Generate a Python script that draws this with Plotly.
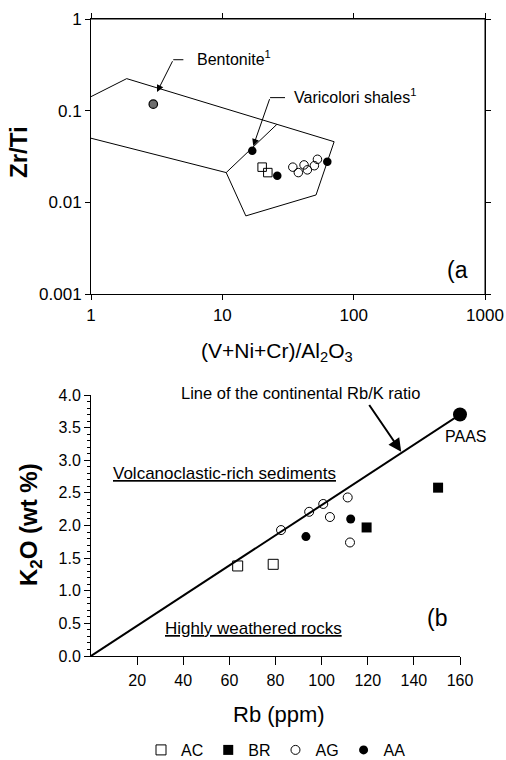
import numpy as np
import plotly.graph_objects as go

# ---------------- Panel (a) data ----------------
a_ac_x = [20.1, 22.2]
a_ac_y = [0.0243, 0.0212]
a_ag_x = [34.4, 37.9, 41.9, 44.4, 50.2, 53.0]
a_ag_y = [0.0243, 0.0212, 0.0257, 0.0227, 0.0252, 0.0296]
a_aa_x = [26.2, 63.0]
a_aa_y = [0.0196, 0.0279]
bentonite_x = [2.98]
bentonite_y = [0.118]
varicolori_x = [16.9]
varicolori_y = [0.0367]
field_x = [1, 1.87, 71, 51.7, 15.1, 10.7, 1]
field_y = [0.1425, 0.224, 0.046, 0.0121, 0.00715, 0.0212, 0.0502]
divider_x = [10.7, 26.0]
divider_y = [0.0212, 0.071]
a_xticks = [1, 10, 100, 1000]
a_xticktext = ["1", "10", "100", "1000"]
a_yticks = [0.001, 0.01, 0.1, 1]
a_yticktext = ["0.001", "0.01", "0.1", "1"]
a_xrange = [0, 3]     # log10 range
a_yrange = [-3, 0]    # log10 range

# ---------------- Panel (b) data ----------------
b_ac_rb = [63.6, 79.0]
b_ac_k = [1.38, 1.405]
b_br_rb = [119.5, 150.5]
b_br_k = [1.97, 2.58]
b_ag_rb = [82.4, 94.6, 100.7, 103.6, 111.3, 112.3]
b_ag_k = [1.93, 2.21, 2.33, 2.13, 2.43, 1.74]
b_aa_rb = [93.2, 112.6]
b_aa_k = [1.83, 2.10]
paas_rb = [160.0]
paas_k = [3.7]
rbk_line_rb = [0, 160]
rbk_line_k = [0, 3.7]
b_xticks = [20, 40, 60, 80, 100, 120, 140, 160]
b_yticks = [0.0, 0.5, 1.0, 1.5, 2.0, 2.5, 3.0, 3.5, 4.0]

FONT = "Arial, Liberation Sans, Helvetica, sans-serif"
W, H = 506, 760


def px(xp):
    return xp / W


def py(yp):
    return 1 - yp / H


fig = go.Figure()

# ---- panel (a) ----
# top and right sides of the frame, taken from the axis ranges
x_lo, x_hi = 10.0 ** a_xrange[0], 10.0 ** a_xrange[1]
y_lo, y_hi = 10.0 ** a_yrange[0], 10.0 ** a_yrange[1]
fig.add_trace(go.Scatter(x=[x_lo, x_hi, x_hi], y=[y_hi, y_hi, y_lo], mode="lines",
                         line=dict(color="black", width=1), showlegend=False,
                         xaxis="x", yaxis="y", hoverinfo="skip", cliponaxis=False))
fig.add_trace(go.Scatter(x=field_x, y=field_y, mode="lines",
                         line=dict(color="black", width=1), showlegend=False,
                         xaxis="x", yaxis="y", hoverinfo="skip"))
fig.add_trace(go.Scatter(x=divider_x, y=divider_y, mode="lines",
                         line=dict(color="black", width=1), showlegend=False,
                         xaxis="x", yaxis="y", hoverinfo="skip"))
fig.add_trace(go.Scatter(x=bentonite_x, y=bentonite_y, mode="markers",
                         marker=dict(symbol="circle", size=8.5, color="#6e6e6e",
                                     line=dict(color="black", width=1.2)),
                         showlegend=False, xaxis="x", yaxis="y"))
fig.add_trace(go.Scatter(x=varicolori_x, y=varicolori_y, mode="markers",
                         marker=dict(symbol="circle", size=8.5, color="black"),
                         showlegend=False, xaxis="x", yaxis="y"))
fig.add_trace(go.Scatter(x=a_ac_x, y=a_ac_y, mode="markers", legendgroup="AC",
                         marker=dict(symbol="square-open", size=8.5, color="black",
                                     line=dict(width=1)),
                         showlegend=False, xaxis="x", yaxis="y"))
fig.add_trace(go.Scatter(x=a_ag_x, y=a_ag_y, mode="markers", legendgroup="AG",
                         marker=dict(symbol="circle-open", size=8.5, color="black",
                                     line=dict(width=1)),
                         showlegend=False, xaxis="x", yaxis="y"))
fig.add_trace(go.Scatter(x=a_aa_x, y=a_aa_y, mode="markers", legendgroup="AA",
                         marker=dict(symbol="circle", size=8.5, color="black"),
                         showlegend=False, xaxis="x", yaxis="y"))

# leader lines (horizontal parts)
fig.add_trace(go.Scatter(x=[5.05, 4.23], y=[0.36, 0.36], mode="lines",
                         line=dict(color="black", width=1), showlegend=False,
                         xaxis="x", yaxis="y", hoverinfo="skip"))
fig.add_trace(go.Scatter(x=[30.0, 23.1], y=[0.139, 0.139], mode="lines",
                         line=dict(color="black", width=1), showlegend=False,
                         xaxis="x", yaxis="y", hoverinfo="skip"))

# ---- panel (b) ----
fig.add_trace(go.Scatter(x=rbk_line_rb, y=rbk_line_k, mode="lines",
                         line=dict(color="black", width=2), showlegend=False,
                         xaxis="x2", yaxis="y2", hoverinfo="skip", cliponaxis=False))
fig.add_trace(go.Scatter(x=b_ac_rb, y=b_ac_k, mode="markers", name="AC", legendgroup="AC",
                         marker=dict(symbol="square-open", size=10, color="black",
                                     line=dict(width=1)),
                         xaxis="x2", yaxis="y2"))
fig.add_trace(go.Scatter(x=b_br_rb, y=b_br_k, mode="markers", name="BR", legendgroup="BR",
                         marker=dict(symbol="square", size=10, color="black"),
                         xaxis="x2", yaxis="y2"))
fig.add_trace(go.Scatter(x=b_ag_rb, y=b_ag_k, mode="markers", name="AG", legendgroup="AG",
                         marker=dict(symbol="circle-open", size=9, color="black",
                                     line=dict(width=1)),
                         xaxis="x2", yaxis="y2"))
fig.add_trace(go.Scatter(x=b_aa_rb, y=b_aa_k, mode="markers", name="AA", legendgroup="AA",
                         marker=dict(symbol="circle", size=9, color="black"),
                         xaxis="x2", yaxis="y2"))
fig.add_trace(go.Scatter(x=paas_rb, y=paas_k, mode="markers", showlegend=False,
                         marker=dict(symbol="circle", size=14, color="black"),
                         xaxis="x2", yaxis="y2", cliponaxis=False))

axis_common = dict(showgrid=False, zeroline=False, showline=True, linecolor="black",
                   linewidth=1, tickcolor="black", tickwidth=1, automargin=False)

fig.update_layout(
    width=W, height=H,
    margin=dict(l=0, r=0, t=0, b=0, pad=0, autoexpand=False),
    paper_bgcolor="white", plot_bgcolor="white",
    font=dict(family=FONT, color="black"),
    xaxis=dict(type="log", range=a_xrange, domain=[px(91), px(485)], anchor="y",
               tickmode="array", tickvals=a_xticks, ticktext=a_xticktext,
               ticks="outside", ticklen=5, mirror="ticks",
               tickfont=dict(size=17, color="black"), **axis_common),
    yaxis=dict(type="log", range=a_yrange, domain=[py(294.3), py(19)], anchor="x",
               tickmode="array", tickvals=a_yticks, ticktext=a_yticktext,
               ticks="outside", ticklen=5, mirror="ticks",
               tickfont=dict(size=17, color="black"), **axis_common),
    xaxis2=dict(range=[0, 160], domain=[px(91), px(460)], anchor="y2",
                tickvals=b_xticks, ticks="outside", ticklen=8,
                tickfont=dict(size=16, color="black"), ticklabelstandoff=2,
                **axis_common),
    yaxis2=dict(range=[0, 4], domain=[py(656), py(395)], anchor="x2",
                tickvals=b_yticks, tickformat=".1f", ticks="outside", ticklen=6,
                tickfont=dict(size=16, color="black"),
                minor=dict(ticks="outside", ticklen=3, dtick=0.1, tickcolor="black"),
                **axis_common),
    legend=dict(orientation="h", x=px(276), xanchor="center", y=py(750), yanchor="middle",
                font=dict(size=16, family=FONT, color="black"), bgcolor="rgba(0,0,0,0)",
                itemwidth=30, tracegroupgap=0),
)

ann = []
# axis titles
ann.append(dict(text="(V+Ni+Cr)/Al<sub>2</sub>O<sub>3</sub>", xref="paper", yref="paper",
                x=px(277), y=py(352), xanchor="center", yanchor="middle",
                showarrow=False, font=dict(size=21)))
ann.append(dict(text="<b>Zr/Ti</b>", xref="paper", yref="paper", x=px(19), y=py(152),
                xanchor="center", yanchor="middle", textangle=-90, showarrow=False,
                font=dict(size=24)))
ann.append(dict(text="<b>K<sub>2</sub>O (wt %)</b>", xref="paper", yref="paper",
                x=px(30), y=py(525), xanchor="center", yanchor="middle", textangle=-90,
                showarrow=False, font=dict(size=24)))
ann.append(dict(text="Rb (ppm)", xref="paper", yref="paper", x=px(279), y=py(714),
                xanchor="center", yanchor="middle", showarrow=False, font=dict(size=22)))
# panel labels
ann.append(dict(text="(a", xref="paper", yref="paper", x=px(457), y=py(270),
                xanchor="center", yanchor="middle", showarrow=False, font=dict(size=23)))
ann.append(dict(text="(b", xref="paper", yref="paper", x=px(437), y=py(618),
                xanchor="center", yanchor="middle", showarrow=False, font=dict(size=23)))
# panel (a) labels and arrows
ann.append(dict(text="Bentonite<sup>1</sup>", xref="x", yref="y",
                x=np.log10(6.2), y=-0.428, xanchor="left", yanchor="middle",
                showarrow=False, font=dict(size=16)))
ann.append(dict(text="", xref="x", yref="y", x=np.log10(3.18), y=np.log10(0.160),
                axref="x", ayref="y", ax=np.log10(4.23), ay=np.log10(0.36),
                showarrow=True, arrowhead=2, arrowsize=1.4, arrowwidth=1,
                arrowcolor="black", standoff=0))
ann.append(dict(text="Varicolori shales<sup>1</sup>", xref="x", yref="y",
                x=np.log10(33.8), y=-0.842, xanchor="left", yanchor="middle",
                showarrow=False, font=dict(size=16)))
ann.append(dict(text="", xref="x", yref="y", x=np.log10(17.2), y=np.log10(0.0414),
                axref="x", ayref="y", ax=np.log10(23.1), ay=np.log10(0.139),
                showarrow=True, arrowhead=2, arrowsize=1.4, arrowwidth=1,
                arrowcolor="black", standoff=0))
# panel (b) labels and arrow
ann.append(dict(text="Line of the continental Rb/K ratio", xref="paper", yref="paper",
                x=px(300), y=py(393), xanchor="center", yanchor="middle", showarrow=False,
                font=dict(size=16.5)))
ann.append(dict(text="", xref="x2", yref="y2", x=134.5, y=3.13, axref="x2", ayref="y2",
                ax=120.2, ay=3.87, showarrow=True, arrowhead=2, arrowsize=1.3,
                arrowwidth=2, arrowcolor="black", standoff=0))
ann.append(dict(text="PAAS", xref="paper", yref="paper", x=px(466), y=py(436.7),
                xanchor="center", yanchor="middle", showarrow=False, font=dict(size=16)))
ann.append(dict(text="<u>Volcanoclastic-rich sediments</u>", xref="x2", yref="y2",
                x=58.1, y=2.80, xanchor="center", yanchor="middle", showarrow=False,
                font=dict(size=17)))
ann.append(dict(text="<u>Highly weathered rocks</u>", xref="x2", yref="y2",
                x=70.4, y=0.42, xanchor="center", yanchor="middle", showarrow=False,
                font=dict(size=17)))
fig.update_layout(annotations=ann)

fig.write_html("out.html")
